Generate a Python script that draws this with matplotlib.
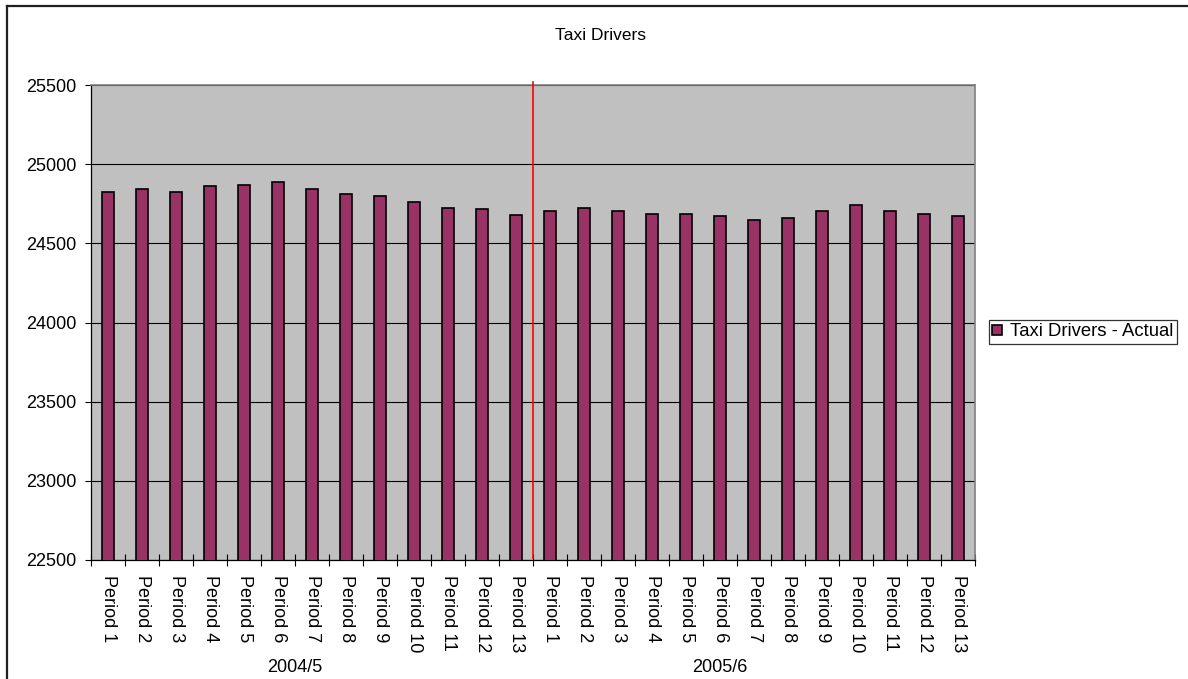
import matplotlib
matplotlib.use("Agg")
import matplotlib.pyplot as plt
from matplotlib.lines import Line2D
from matplotlib.transforms import blended_transform_factory
import numpy as np

# Data
years = ["2004/5", "2005/6"]
periods = [f"Period {i}" for i in range(1, 14)]
actual_2004 = [24825, 24845, 24825, 24865, 24870, 24890, 24845,
               24810, 24800, 24760, 24725, 24715, 24680]
actual_2005 = [24705, 24725, 24705, 24685, 24685, 24670, 24650,
               24660, 24705, 24740, 24705, 24685, 24670]
series_name = "Taxi Drivers - Actual"
title = "Taxi Drivers"
y_ticks = [22500, 23000, 23500, 24000, 24500, 25000, 25500]

plt.rcParams["font.family"] = ["Liberation Sans", "DejaVu Sans"]

W, H = 1188, 679
fig = plt.figure(figsize=(W / 100, H / 100), dpi=100)

def fx(px):
    return px / W

def fy(py):
    return 1 - py / H

left, right, top, bottom = 91, 975, 85, 560
ax = fig.add_axes([fx(left), fy(bottom), fx(right - left), (bottom - top) / H])

values = actual_2004 + actual_2005
labels = periods + periods
x = np.arange(len(values))

ax.set_facecolor("#C0C0C0")
ax.bar(x, values, width=0.38, color="#993366", edgecolor="black",
       linewidth=1.2, zorder=3, label=series_name)

ax.set_xlim(-0.5, len(values) - 0.5)
ax.set_ylim(y_ticks[0], y_ticks[-1])
ax.set_yticks(y_ticks)
ax.tick_params(axis="y", labelsize=13, length=4.5, width=0.8, pad=6,
               direction="out", color="black")

# horizontal gridlines
ax.yaxis.grid(True, color="black", linewidth=0.8, zorder=1)
ax.set_axisbelow(True)

# category labels at centers, tick marks at category boundaries
ax.set_xticks(x)
ax.set_xticklabels(labels, rotation=-90, fontsize=13)
ax.tick_params(axis="x", which="major", length=0, pad=11)
ax.set_xticks(np.arange(-0.5, len(values), 1.0), minor=True)
ax.tick_params(axis="x", which="minor", length=8, width=0.8,
               direction="inout", color="black")

for side in ("top", "right"):
    ax.spines[side].set_color("#808080")
    ax.spines[side].set_linewidth(1.2)
for side in ("left", "bottom"):
    ax.spines[side].set_color("black")
    ax.spines[side].set_linewidth(0.9)

# divider between the two years
ax.plot([12.5, 12.5], [22515, 25520], color="red", linewidth=1.2,
        zorder=5, clip_on=False)

# year group labels
trans = blended_transform_factory(ax.transData, fig.transFigure)
ax.text(5.5, fy(667), years[0], transform=trans, ha="center", va="center",
        fontsize=13)
ax.text(18.0, fy(667), years[1], transform=trans, ha="center", va="center",
        fontsize=13)

# title
fig.text(fx(601), fy(35), title, ha="center", va="center", fontsize=12.5)

# legend
leg = fig.legend(loc="upper left", bbox_to_anchor=(fx(989), fy(320)),
                 fontsize=13.3, frameon=True, fancybox=False, shadow=False,
                 borderpad=0.18, handlelength=0.5, handleheight=0.5,
                 handletextpad=0.45, borderaxespad=0)
leg.get_frame().set_edgecolor("black")
leg.get_frame().set_linewidth(0.9)

# chart-area border
fig.add_artist(Line2D([fx(7), fx(7)], [fy(6), 0], transform=fig.transFigure,
                      color="#202020", linewidth=1.6))
fig.add_artist(Line2D([fx(7), 1], [fy(6), fy(6)], transform=fig.transFigure,
                      color="#202020", linewidth=1.6))

fig.savefig("out.png", dpi=100)
